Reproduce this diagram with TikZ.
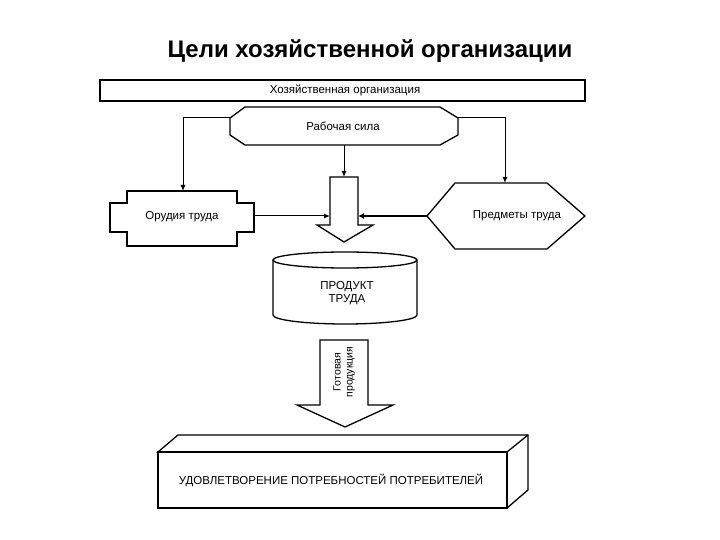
\documentclass[tikz,border=0pt]{standalone}
\usepackage{fontspec}
\setmainfont{Liberation Sans}
\usetikzlibrary{arrows.meta}
\begin{document}
\begin{tikzpicture}[x=1pt,y=-1pt,
  shp/.style={draw=black,line width=1.3pt,fill=white,line join=miter},
  lbl/.style={font=\fontsize{11.5}{13}\selectfont,align=center,inner sep=0pt},
  con/.style={draw=black,line width=1pt,-{Latex[length=6pt,width=5pt]}},
  conthick/.style={draw=black,line width=1.8pt,-{Latex[length=6pt,width=6pt]}}]
\useasboundingbox (0,0) rectangle (720,540);
% title
\node[font=\fontsize{24}{28}\selectfont\bfseries] (title) at (370,51) {Цели хозяйственной организации};
% top bar
\draw[shp,line width=1.1pt] (100,80) rectangle (585,101);
\node[lbl] (org) at (345,90) {Хозяйственная организация};
% Рабочая сила
\draw[shp] (245,107) -- (440,107) -- (458,118) -- (458,135) -- (440,145) -- (245,145) -- (230,135) -- (230,118) -- cycle;
\node[lbl] (rs) at (343,126) {Рабочая сила};
\coordinate (rsL) at (230,118);
\coordinate (rsR) at (458,118);
\coordinate (rsB) at (344,145);
% Орудия труда
\draw[shp] (127,191) -- (237,191) -- (237,203) -- (254,203) -- (254,232) -- (237,232) -- (237,246) -- (127,246) -- (127,232) -- (110,232) -- (110,203) -- (127,203) -- cycle;
\node[lbl] (ot) at (182,217) {Орудия труда};
\coordinate (otT) at (183,191);
\coordinate (otR) at (254,216);
% Предметы труда
\draw[shp] (427,216) -- (455,183) -- (547,183) -- (585,216) -- (547,249) -- (455,249) -- cycle;
\node[lbl] (pt) at (517,216) {Предметы труда};
\coordinate (ptT) at (505,183);
\coordinate (ptL) at (427,216);
% thick arrow 1
\draw[shp] (330,177) -- (358,177) -- (358,225) -- (373,225) -- (344,242) -- (317,225) -- (330,225) -- cycle;
\coordinate (a1T) at (344,177);
\coordinate (a1L) at (330,216);
\coordinate (a1R) at (358,216);
% connectors
\draw[con] (rsL) -| (otT);
\draw[con] (rsR) -| (ptT);
\draw[con] (rsB) -- (a1T);
\draw[con] (otR) -- (a1L);
\draw[conthick] (ptL) -- (a1R);
% cylinder
\draw[shp] (273,260) -- (273,315) arc[start angle=180,end angle=0,x radius=72,y radius=9] -- (417,260);
\draw[shp] (345,260) ellipse[x radius=72,y radius=8];
\node[lbl] (prod) at (347,293) {ПРОДУКТ\\ТРУДА};
% thick arrow 2
\draw[shp] (320,340) -- (368,340) -- (368,405) -- (393,405) -- (345,427) -- (297,405) -- (320,405) -- cycle;
\node[lbl,rotate=90,font=\fontsize{10.5}{12}\selectfont] (gp) at (344,372) {Готовая\\продукция};
% 3D box
\draw[shp] (158,452) -- (178,435) -- (528,435) -- (528,490) -- (507,508) -- (507,452) -- cycle;
\draw[black,line width=1.3pt] (507,452) -- (528,435);
\draw[shp] (158,452) rectangle (507,508);
\node[lbl] (ud) at (331,480) {УДОВЛЕТВОРЕНИЕ ПОТРЕБНОСТЕЙ ПОТРЕБИТЕЛЕЙ};
\end{tikzpicture}
\end{document}
